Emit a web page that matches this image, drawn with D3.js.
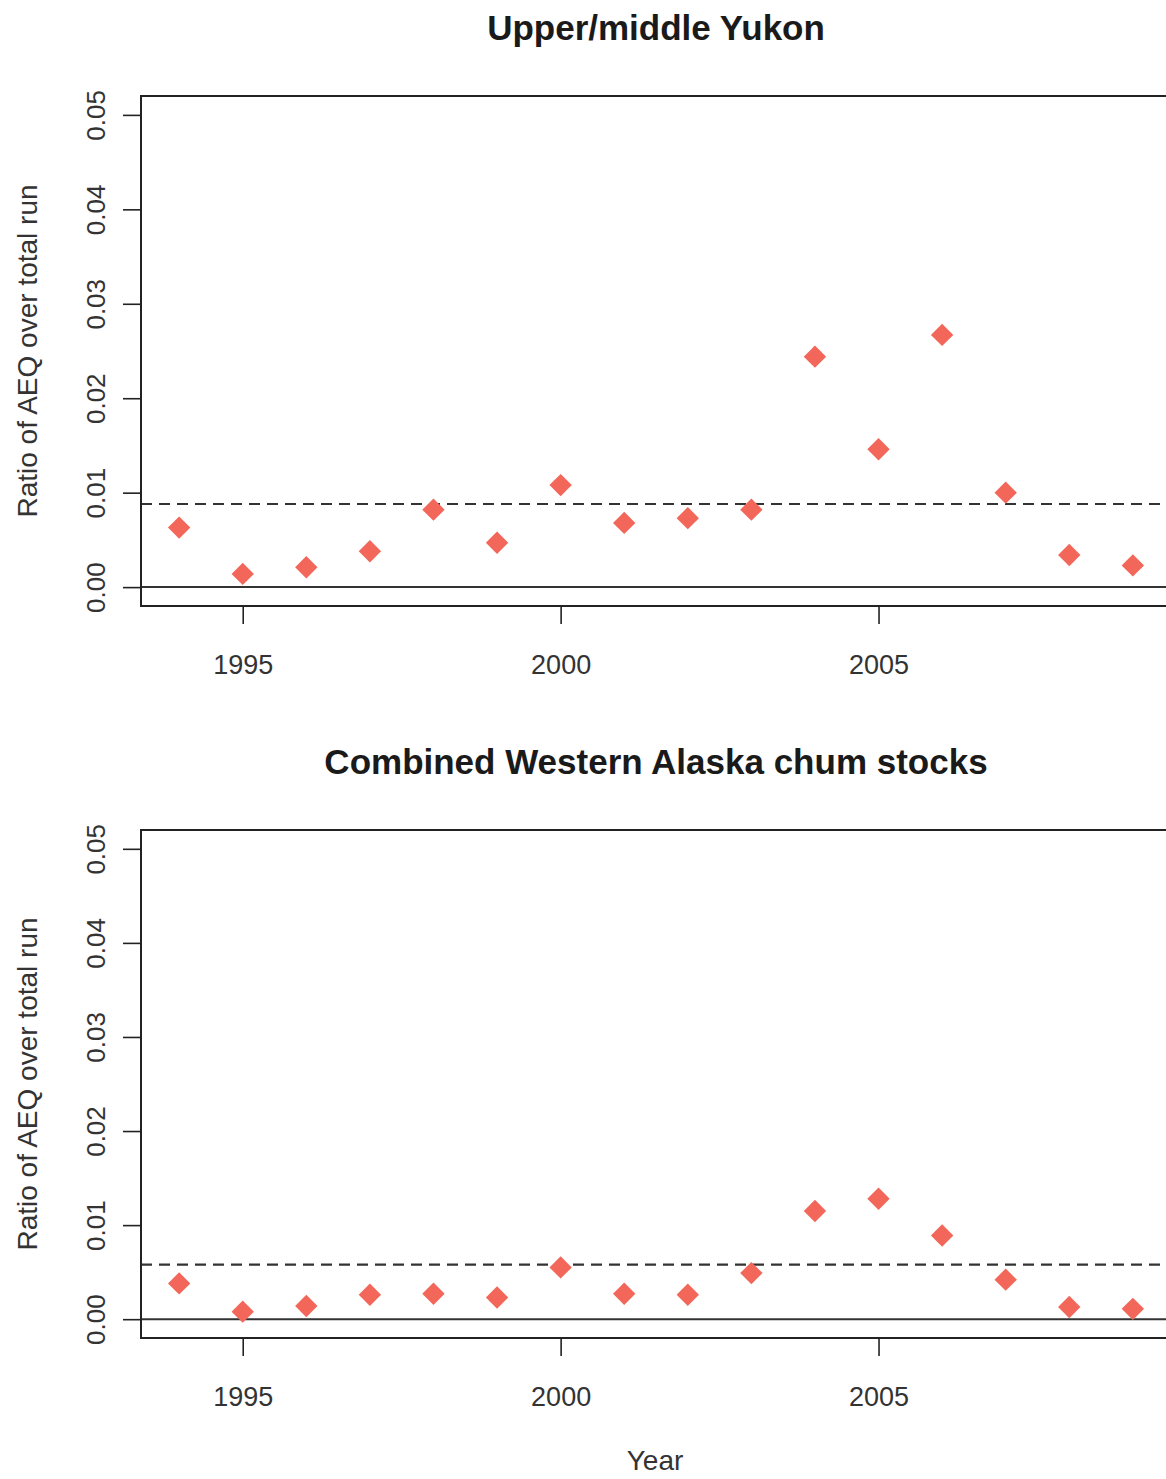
<!DOCTYPE html>
<html>
<head>
<meta charset="utf-8">
<script src="https://cdn.jsdelivr.net/npm/d3@7"></script>
<style>
  html, body { margin: 0; padding: 0; background: #fff; }
  svg { display: block; }
  text { font-family: "Liberation Sans", Arial, Helvetica, sans-serif; }
</style>
</head>
<body>
<div id="chart"></div>
<script>
// Years of the bycatch series
const years = [1994, 1995, 1996, 1997, 1998, 1999, 2000, 2001,
               2002, 2003, 2004, 2005, 2006, 2007, 2008, 2009];

// Ratio of adult-equivalent (AEQ) bycatch over total run, Upper/middle Yukon
const yukonRatio = [0.0063, 0.0014, 0.0021, 0.0038, 0.0082, 0.0047, 0.0108, 0.0068,
                    0.0073, 0.0082, 0.0244, 0.0146, 0.0267, 0.0100, 0.0034, 0.0023];
const yukonReference = 0.0088;

// Same ratio for the combined Western Alaska chum stocks
const westernRatio = [0.0038, 0.0008, 0.0014, 0.0026, 0.0027, 0.0023, 0.0055, 0.0027,
                      0.0026, 0.0049, 0.0115, 0.0128, 0.0089, 0.0042, 0.0013, 0.0011];
const westernReference = 0.0058;

const panelTitles = ["Upper/middle Yukon", "Combined Western Alaska chum stocks"];
const xTicks = [1995, 2000, 2005];
const yTicks = [0.00, 0.01, 0.02, 0.03, 0.04, 0.05];
const yAxisLabel = "Ratio of AEQ over total run";
const xAxisLabel = "Year";

const width = 1166, height = 1479;
const svg = d3.select("#chart").append("svg")
  .attr("width", width).attr("height", height);

const markColor = "#f2675a";
const inkColor = "#222";

// Frame extents follow R's 4% axis padding around the data range
const x = d3.scaleLinear().domain([1993.4, 2009.6]).range([141, 1171]);

function drawPanel(top, bottom, title, values, reference) {
  const y = d3.scaleLinear().domain([-0.002, 0.052]).range([bottom, top]);
  const g = svg.append("g");

  // title
  g.append("text")
    .attr("x", 656).attr("y", top - 56)
    .attr("text-anchor", "middle")
    .attr("font-size", 35).attr("font-weight", "bold")
    .attr("fill", "#1a1a1a")
    .text(title);

  // zero line
  g.append("line")
    .attr("x1", x.range()[0]).attr("x2", x.range()[1])
    .attr("y1", y(0)).attr("y2", y(0))
    .attr("stroke", "#333").attr("stroke-width", 2);

  // reference level
  g.append("line")
    .attr("x1", x.range()[0]).attr("x2", x.range()[1])
    .attr("y1", y(reference)).attr("y2", y(reference))
    .attr("stroke", "#333").attr("stroke-width", 2.2)
    .attr("stroke-dasharray", "11,7");

  // diamonds
  const diamond = d3.symbol().type(d3.symbolSquare).size(250);
  g.append("g").selectAll("path")
    .data(years.map((yr, i) => ({ year: yr, v: values[i] })))
    .join("path")
    .attr("d", diamond)
    .attr("transform", d => `translate(${x(d.year)},${y(d.v)}) rotate(45)`)
    .attr("fill", markColor);

  // plot frame
  g.append("rect")
    .attr("x", x.range()[0]).attr("y", top)
    .attr("width", x.range()[1] - x.range()[0]).attr("height", bottom - top)
    .attr("fill", "none").attr("stroke", inkColor).attr("stroke-width", 2);

  // x axis
  const xa = g.append("g").attr("transform", `translate(0,${bottom})`)
    .call(d3.axisBottom(x).tickValues(xTicks).tickFormat(d3.format("d")).tickSize(18).tickSizeOuter(0));
  xa.select(".domain").remove();
  xa.selectAll(".tick line").attr("stroke", inkColor).attr("stroke-width", 1.6);
  xa.selectAll(".tick text")
    .attr("y", 68).attr("dy", 0)
    .attr("font-size", 27).attr("fill", "#333")
    .style("font-family", "'Liberation Sans', Arial, sans-serif");

  // y axis with labels parallel to the axis
  const ya = g.append("g").attr("transform", `translate(${x.range()[0]},0)`)
    .call(d3.axisLeft(y).tickValues(yTicks).tickFormat(d3.format(".2f")).tickSize(18).tickSizeOuter(0));
  ya.select(".domain").attr("d", `M0,${y(0)}V${y(0.05)}`).attr("stroke", inkColor).attr("stroke-width", 1.6);
  ya.selectAll(".tick line").attr("stroke", inkColor).attr("stroke-width", 1.6);
  ya.selectAll(".tick text")
    .attr("x", 0).attr("y", -36).attr("dy", 0)
    .attr("transform", "rotate(-90)")
    .attr("text-anchor", "middle")
    .attr("font-size", 26).attr("fill", "#333")
    .style("font-family", "'Liberation Sans', Arial, sans-serif");

  // y axis title
  g.append("text")
    .attr("transform", `translate(37,${(top + bottom) / 2}) rotate(-90)`)
    .attr("text-anchor", "middle")
    .attr("font-size", 28).attr("fill", "#333")
    .text(yAxisLabel);
}

drawPanel(96, 606, panelTitles[0], yukonRatio, yukonReference);
drawPanel(830, 1338, panelTitles[1], westernRatio, westernReference);

svg.append("text")
  .attr("x", 655).attr("y", 1470)
  .attr("text-anchor", "middle")
  .attr("font-size", 28).attr("fill", "#333")
  .text(xAxisLabel);
</script>
</body>
</html>
